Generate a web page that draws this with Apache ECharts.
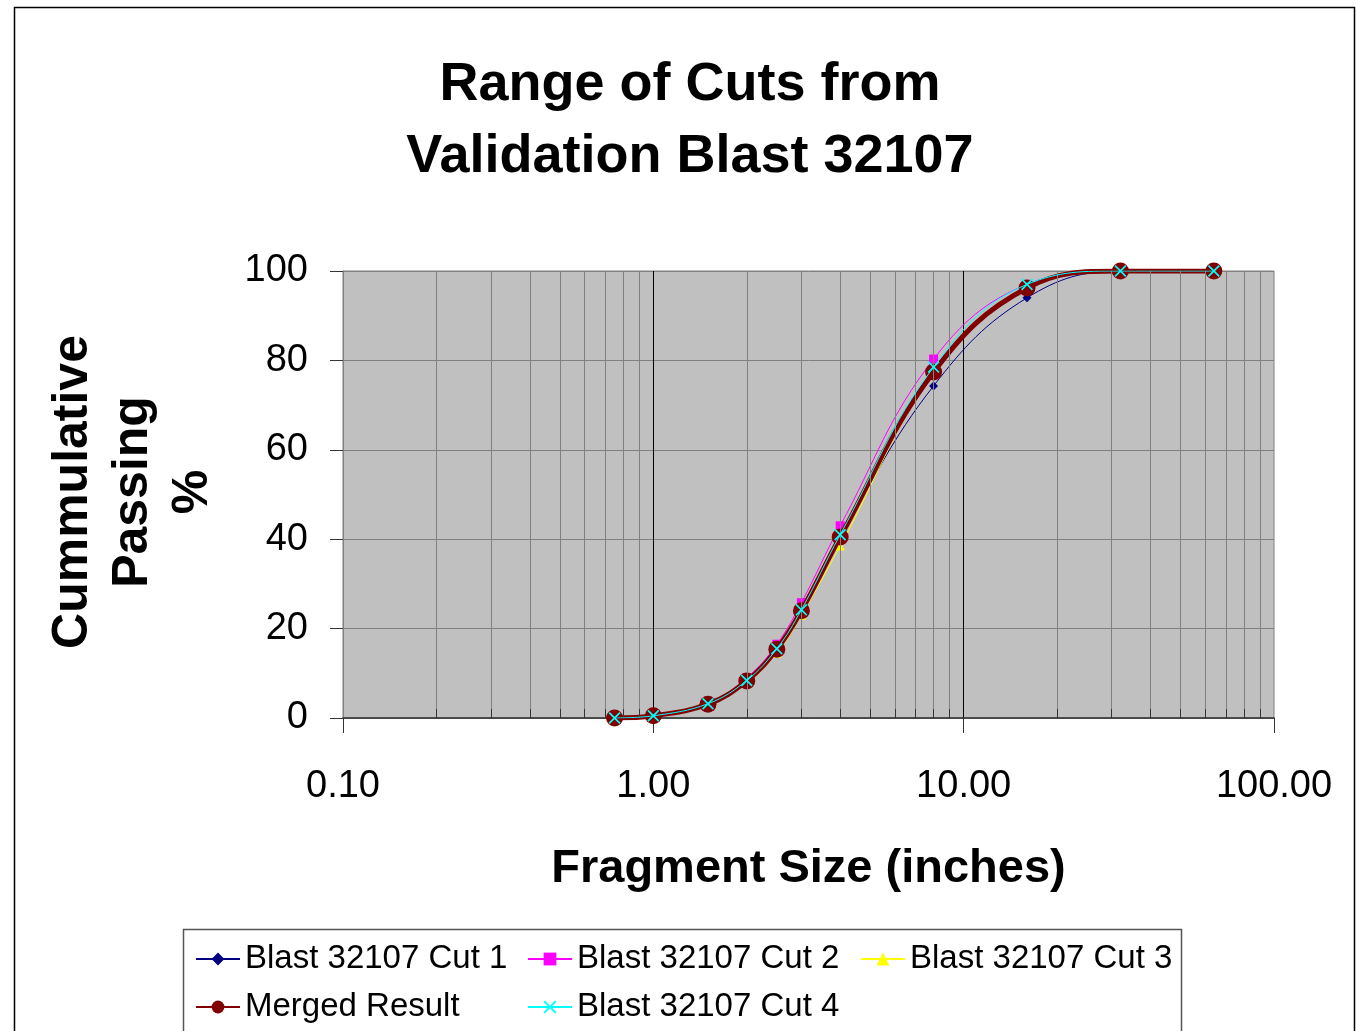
<!DOCTYPE html>
<html>
<head>
<meta charset="utf-8">
<script src="https://cdn.jsdelivr.net/npm/echarts@6/dist/echarts.min.js"></script>
<style>
  html, body { margin: 0; padding: 0; background: #fff; }
  #chart { width: 1361px; height: 1031px; }
</style>
</head>
<body>
<div id="chart"></div>
<script>
var FONT = '"Liberation Sans", Arial, sans-serif';

// fragment size (inches)
var sizes = [0.75, 1, 1.5, 2, 2.5, 3, 4, 8, 16, 32, 64];
// cumulative passing %
var cut1 = [0, 0.4, 3.0, 8.0, 15.0, 23.5, 40.5, 74.3, 94.0, 100, 100];
var cut2 = [0, 0.6, 3.4, 9.0, 16.5, 25.8, 43.0, 80.3, 97.0, 100, 100];
var cut3 = [0, 0.3, 2.8, 7.8, 14.5, 23.0, 38.5, 77.0, 96.5, 100, 100];
var merged = [0, 0.5, 3.1, 8.3, 15.4, 24.0, 40.5, 77.4, 96.2, 100, 100];
var cut4 = [0, 0.5, 3.2, 8.4, 15.5, 24.2, 41.0, 78.5, 97.0, 100, 100];

var seriesNames = ['Blast 32107 Cut 1', 'Blast 32107 Cut 2', 'Blast 32107 Cut 3', 'Merged Result', 'Blast 32107 Cut 4'];

function pairs(ys) {
  var out = [];
  for (var i = 0; i < sizes.length; i++) out.push([sizes[i], ys[i]]);
  return out;
}

// minor log gridlines 2..9 in each decade
var minorX = [];
[0.1, 1, 10].forEach(function (d) {
  for (var k = 2; k <= 9; k++) minorX.push(+(d * k).toFixed(2));
});

var xCross = 'path://M0,1L1,0L5,4L9,0L10,1L6,5L10,9L9,10L5,6L1,10L0,9L4,5Z';

var chart = echarts.init(document.getElementById('chart'));

var legendText = { fontFamily: FONT, fontSize: 33, color: '#000', lineHeight: 40 };

chart.setOption({
  backgroundColor: '#ffffff',
  animation: false,
  title: {
    text: 'Range of Cuts from\nValidation Blast 32107',
    left: 685,
    top: 44,
    textAlign: 'center',
    textStyle: { fontFamily: FONT, fontSize: 54, fontWeight: 'bold', color: '#000', lineHeight: 72 }
  },
  grid: {
    left: 343, right: 87, top: 271, bottom: 313,
    show: true,
    backgroundColor: '#C0C0C0',
    borderColor: '#808080',
    borderWidth: 1
  },
  legend: [
    { left: 195, top: 939, orient: 'vertical', padding: 0, itemGap: 8, itemWidth: 44, itemHeight: 16,
      data: [seriesNames[0], seriesNames[3]], textStyle: legendText, selectedMode: false },
    { left: 527, top: 939, orient: 'vertical', padding: 0, itemGap: 8, itemWidth: 44, itemHeight: 16,
      data: [seriesNames[1], seriesNames[4]], textStyle: legendText, selectedMode: false },
    { left: 860, top: 939, orient: 'vertical', padding: 0, itemGap: 8, itemWidth: 44, itemHeight: 16,
      data: [seriesNames[2]], textStyle: legendText, selectedMode: false }
  ],
  graphic: [
    { type: 'rect', silent: true, z: -1,
      shape: { x: 14.5, y: 7.5, width: 1340, height: 1050 },
      style: { fill: 'none', stroke: '#000', lineWidth: 1.5 } },
    { type: 'rect', silent: true,
      shape: { x: 183.5, y: 929.5, width: 998, height: 120 },
      style: { fill: 'none', stroke: '#555', lineWidth: 1.5 } },
    { type: 'text', silent: true,
      x: 133, y: 492, rotation: Math.PI / 2,
      style: { text: 'Cummulative\nPassing\n%', fontFamily: FONT, fontSize: 50, fontWeight: 'bold',
        lineHeight: 60, fill: '#000', align: 'center', verticalAlign: 'middle' } }
  ],
  xAxis: {
    type: 'log',
    logBase: 10,
    min: 0.1,
    max: 100,
    name: 'Fragment Size (inches)',
    nameLocation: 'middle',
    nameGap: 128,
    nameTextStyle: { fontFamily: FONT, fontSize: 47, fontWeight: 'bold', color: '#000' },
    axisLine: { show: true, onZero: false, lineStyle: { color: '#333', width: 1.5 } },
    axisTick: { show: true, inside: false, length: 15, lineStyle: { color: '#333' } },
    axisLabel: { fontFamily: FONT, fontSize: 38, color: '#000', margin: 50,
      formatter: function (v) { return Number(v).toFixed(2); } },
    splitLine: { show: true, showMinLine: false, showMaxLine: false, lineStyle: { color: '#000', width: 1 } }
  },
  yAxis: {
    type: 'value',
    min: 0,
    max: 100,
    interval: 20,
    axisLine: { show: true, lineStyle: { color: '#808080' } },
    axisTick: { show: true, inside: false, length: 13, lineStyle: { color: '#333' } },
    axisLabel: { fontFamily: FONT, fontSize: 38, color: '#000', margin: 35 },
    splitLine: { show: true, lineStyle: { color: '#808080', width: 1 } }
  },
  series: [
    { // minor gridlines
      type: 'line', data: [], silent: true, z: 1,
      markLine: {
        silent: true, symbol: ['none', 'none'], label: { show: false },
        lineStyle: { color: '#808080', type: 'solid', width: 1 },
        emphasis: { disabled: true },
        data: minorX.map(function (v) { return { xAxis: v }; })
      }
    },
    { // minor ticks on x axis
      type: 'line', data: [], silent: true, z: 1,
      markLine: {
        silent: true, symbol: ['none', 'none'], label: { show: false },
        lineStyle: { color: '#333', type: 'solid', width: 1 },
        emphasis: { disabled: true },
        data: minorX.map(function (v) { return [{ coord: [v, 0] }, { coord: [v, 2] }]; })
      }
    },
    {
      name: seriesNames[0], type: 'line', data: pairs(cut1), smooth: 0.4, z: 3,
      symbol: 'diamond', symbolSize: 9,
      itemStyle: { color: '#000080' }, lineStyle: { color: '#000080', width: 1 }
    },
    {
      name: seriesNames[1], type: 'line', data: pairs(cut2), smooth: 0.4, z: 3,
      symbol: 'rect', symbolSize: 9,
      itemStyle: { color: '#FF00FF' }, lineStyle: { color: '#FF00FF', width: 1 }
    },
    {
      name: seriesNames[2], type: 'line', data: pairs(cut3), smooth: 0.4, z: 3,
      symbol: 'triangle', symbolSize: 9,
      itemStyle: { color: '#FFFF00' }, lineStyle: { color: '#FFFF00', width: 1 }
    },
    {
      name: seriesNames[3], type: 'line', data: pairs(merged), smooth: 0.4, z: 4,
      symbol: 'circle', symbolSize: 17,
      itemStyle: { color: '#800000' }, lineStyle: { color: '#800000', width: 5 }
    },
    {
      name: seriesNames[4], type: 'line', data: pairs(cut4), smooth: 0.4, z: 5,
      symbol: xCross, symbolSize: 12,
      itemStyle: { color: '#00FFFF' }, lineStyle: { color: '#00FFFF', width: 1 }
    }
  ]
});
</script>
</body>
</html>
